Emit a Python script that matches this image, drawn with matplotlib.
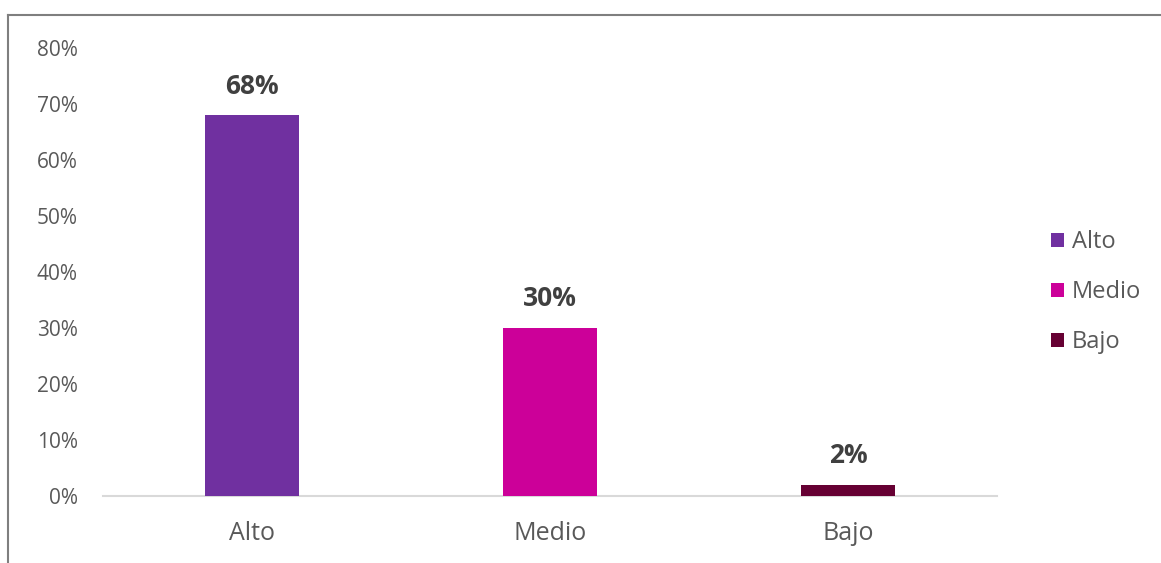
import matplotlib
matplotlib.use('Agg')
import matplotlib.pyplot as plt
from matplotlib.patches import Patch
from matplotlib.lines import Line2D

categories = ['Alto', 'Medio', 'Bajo']
values = [0.68, 0.30, 0.02]
colors = ['#7030A0', '#CC0099', '#660033']
y_ticks = [0, 0.1, 0.2, 0.3, 0.4, 0.5, 0.6, 0.7, 0.8]

plt.rcParams['font.family'] = ['Open Sans', 'DejaVu Sans']

fig = plt.figure(figsize=(11.61, 5.63), dpi=100)
ax = fig.add_axes([0.0887, 0.119, 0.770, 0.7957])

x = list(range(len(categories)))
bars = ax.bar(x, values, width=0.318, color=colors, zorder=3)
for b, v in zip(bars, values):
    ax.text(b.get_x() + b.get_width() / 2, v + 0.028, f'{v:.0%}',
            ha='center', va='bottom', fontsize=19, fontweight='bold', color='#404040')

ax.set_xlim(-0.5, 2.5)
ax.set_ylim(0, 0.8)
ax.set_yticks(y_ticks)
ax.set_yticklabels([f'{t:.0%}' for t in y_ticks])
ax.set_xticks(x)
ax.set_xticklabels(categories)
ax.tick_params(axis='y', length=0, pad=18, labelsize=15, labelcolor='#595959')
ax.tick_params(axis='x', length=0, pad=18, labelsize=18, labelcolor='#595959')
for s in ['top', 'right', 'left']:
    ax.spines[s].set_visible(False)
ax.spines['bottom'].set_color('#D9D9D9')
ax.spines['bottom'].set_linewidth(1.5)

handles = [Patch(facecolor=c, label=l) for c, l in zip(colors, categories)]
leg = ax.legend(handles=handles, loc='center left', bbox_to_anchor=(1.047, 0.455),
                frameon=False, fontsize=17, handlelength=0.55, handleheight=0.55,
                handletextpad=0.35, labelspacing=1.1, borderpad=0)
for t in leg.get_texts():
    t.set_color('#595959')

# outer frame (top and left edges visible)
fig.add_artist(Line2D([8 / 1161, 1], [1 - 15 / 563, 1 - 15 / 563],
                      transform=fig.transFigure, color='#7F7F7F', lw=1.5))
fig.add_artist(Line2D([8 / 1161, 8 / 1161], [0, 1 - 15 / 563],
                      transform=fig.transFigure, color='#7F7F7F', lw=1.5))

fig.savefig('out.png', dpi=100)
